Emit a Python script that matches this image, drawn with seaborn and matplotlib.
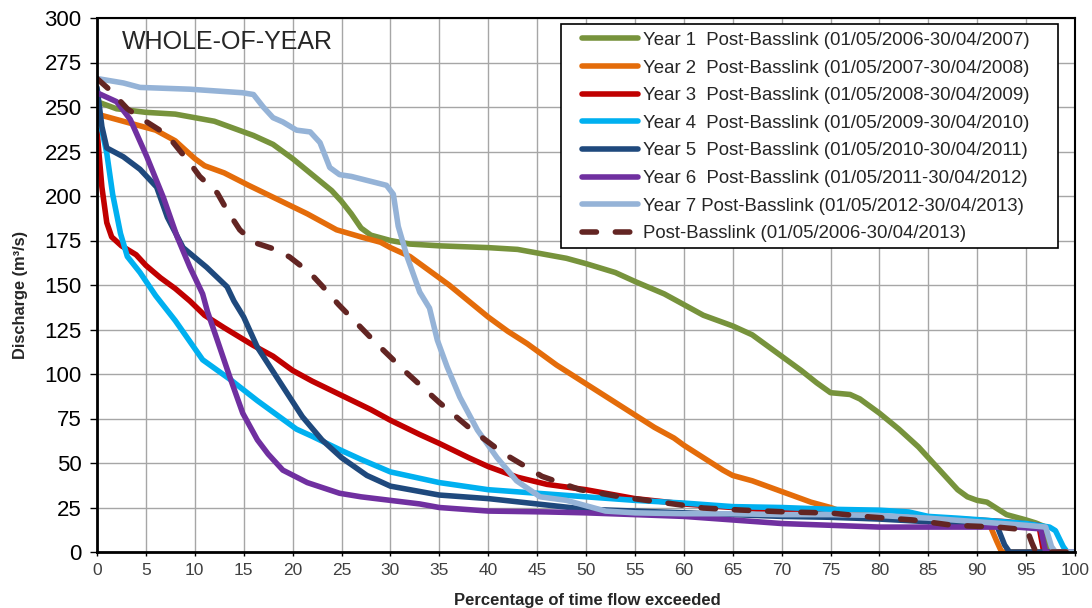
import matplotlib
matplotlib.use("Agg")
import matplotlib.pyplot as plt
from matplotlib.patches import Rectangle
import numpy as np
import pandas as pd
import seaborn as sns

# Flow-duration data: percentage of time exceeded vs discharge (m3/s)
labels = [
    "Year 1  Post-Basslink (01/05/2006-30/04/2007)",
    "Year 2  Post-Basslink (01/05/2007-30/04/2008)",
    "Year 3  Post-Basslink (01/05/2008-30/04/2009)",
    "Year 4  Post-Basslink (01/05/2009-30/04/2010)",
    "Year 5  Post-Basslink (01/05/2010-30/04/2011)",
    "Year 6  Post-Basslink (01/05/2011-30/04/2012)",
    "Year 7 Post-Basslink (01/05/2012-30/04/2013)",
    "Post-Basslink (01/05/2006-30/04/2013)",
]

x1 = [0, 2, 5, 8, 10, 12, 14, 16, 18, 20, 22, 24, 25, 26, 27, 28, 30, 32, 35, 40, 43, 45,
      48, 50, 53, 55, 58, 60, 62, 65, 67, 70, 72, 73.6, 75, 76, 77, 78, 80, 82, 84, 85, 86,
      87, 88, 89, 90, 91, 92, 93, 94, 95, 96, 97, 97.4, 100]
y1 = [253, 249, 247, 246, 244, 242, 238, 234, 229, 221, 212, 203, 197, 190, 182, 178, 175,
      173, 172, 171, 170, 168, 165, 162, 157, 152, 145, 139, 133, 127, 122, 110, 102, 95,
      89.5, 89, 88.5, 86, 78, 69, 59, 53, 47, 41, 35, 31, 29, 28, 24.5, 21, 19.5, 18, 16.3,
      14, 0, 0]

x2 = [0, 1, 4, 6, 8, 10, 11, 13, 15.5, 18.5, 21.5, 24.5, 27, 29, 30, 32, 34, 36, 38, 40, 42,
      44, 45, 47, 49, 51, 53, 55, 57, 59, 60, 62, 64, 65, 67, 68, 70, 71, 73, 75, 76, 78, 80,
      85, 90, 91.3, 92, 92.5, 100]
y2 = [246, 244.5, 240, 237, 231, 221, 217, 213, 206, 198, 190, 181, 177, 174, 171, 166, 158,
      150, 141, 132, 124, 117, 113, 105, 98, 91, 84, 77, 70, 64, 60, 53, 46, 43, 40, 38, 34,
      32, 28, 25, 23, 21, 20, 18, 16, 15, 6, 0, 0]

x3 = [0, 0.5, 1, 1.5, 2.5, 4, 5, 6.5, 8, 9.5, 11, 13, 16, 18, 20, 22, 25, 28, 30, 33, 35, 38,
      40, 43, 46, 50, 55, 60, 65, 70, 75, 80, 85, 90, 93, 96.3, 96.8, 100]
y3 = [237, 205, 185, 177, 172, 167, 161, 154, 148, 141, 133, 126, 116, 110, 102, 96, 88, 80,
      74, 66, 61, 53, 48, 42, 38, 35, 30, 27, 25, 23, 21, 20, 19, 18, 17, 15, 0, 0]

x4 = [0, 1, 1.6, 2.4, 3.1, 4.4, 6, 8, 10.8, 13.6, 16.4, 20.4, 22, 25, 27, 30, 35, 40, 45, 50,
      55, 60, 65, 70, 75, 80, 83, 85, 88, 90.5, 95, 97.4, 98, 98.8, 99.2, 100]
y4 = [250, 224, 201, 179, 166, 157, 144, 130, 108, 97, 85, 69, 65, 57, 52, 45, 39, 35, 33, 31,
      29, 27.5, 25.5, 25, 24, 23.5, 22.5, 20, 19, 18, 16, 14, 12, 3, 0, 0]

x5 = [0, 0.5, 1, 2.7, 4.4, 6.1, 7.2, 8.8, 11.2, 13.3, 14, 15, 16.4, 18.4, 21, 23, 25, 27.6,
      30, 35, 40, 45, 50, 55, 60, 65, 70, 75, 80, 85, 90, 92, 92.8, 93.3, 100]
y5 = [261, 239, 227, 222, 215, 205, 188, 171, 160, 149, 141, 132, 115, 98, 76, 63, 53, 43, 37,
      32, 30, 27, 24, 23, 22, 21, 20, 19.5, 18.5, 17, 16, 15, 4, 0, 0]

x6 = [0, 2, 3.4, 5.1, 6.8, 8.2, 9.5, 10.8, 11.3, 12.3, 13.6, 14.9, 16.4, 17.5, 19, 21.5, 24.8,
      27, 30, 33, 35, 40, 46, 50, 55, 60, 65, 70, 75, 80, 85, 90, 94, 96.5, 97, 100]
y6 = [258, 253, 243, 222, 199, 177, 160, 145, 135, 119, 98, 78, 63, 55, 46, 39, 33, 31, 29, 27,
      25, 23, 22.5, 22, 21, 20, 18, 16, 15, 14, 14, 14, 14, 13, 0, 0]

x7 = [0, 2.7, 4.4, 9.5, 14.9, 16, 17, 18, 19, 20.4, 21.8, 22.8, 23.8, 24.8, 26, 29.6, 30.3,
      30.8, 31.7, 33, 34, 34.8, 35.8, 37.1, 38.9, 40.9, 42.9, 45.3, 48, 52, 55, 60, 65, 70,
      75, 80, 85, 90, 95, 97, 97.6, 98, 100]
y7 = [266, 263.5, 261, 260, 258, 257, 250, 244, 241.6, 237, 236, 230, 216, 212, 211, 206, 201,
      183, 166, 146, 137, 119, 104, 87, 68.5, 53, 40, 31, 29, 23, 22, 21.5, 21.5, 21, 21, 20.5,
      19, 17, 15, 14, 3, 0, 0]

x8 = [0, 1.3, 3.1, 4.4, 6.7, 7.8, 9.5, 10.5, 12.3, 13.3, 14.6, 16, 18.4, 19.7, 21.8, 23.1,
      24.7, 28.6, 31.7, 35, 38.1, 41.5, 45.5, 49.4, 53.5, 57.6, 62, 65.7, 70.6, 75, 79, 83.4,
      87.5, 92, 95.1, 95.6, 96, 100]
y8 = [266, 259.6, 249, 244, 236, 230, 218.5, 211, 201.7, 192, 181, 174, 169.7, 165.7, 156.7,
      149, 139, 117, 100.5, 84, 69.6, 55.6, 42.5, 35, 31, 28, 24.7, 23.6, 22.5, 21.9, 19.7,
      18, 15, 14, 12.4, 5, 0, 0]

xs = [x1, x2, x3, x4, x5, x6, x7, x8]
ys = [y1, y2, y3, y4, y5, y6, y7, y8]
colors = ["#77933C", "#E46C0A", "#C00000", "#00B0F0", "#1F497D", "#7030A0", "#95B3D7", "#632523"]

sns.set_style("white")
plt.rcParams["font.family"] = ["Liberation Sans", "DejaVu Sans"]

fig = plt.figure(figsize=(10.92, 6.08), dpi=100)
ax = fig.add_axes([97 / 1092, 1 - 552 / 608, 978 / 1092, 534 / 608])

for lab, x, y, c in zip(labels, xs, ys, colors):
    df = pd.DataFrame({"pct": x, "q": y})
    sns.lineplot(data=df, x="pct", y="q", ax=ax, color=c, lw=4, sort=False,
                 estimator=None, label=lab, legend=False,
                 solid_capstyle="round", solid_joinstyle="round")

lines = ax.get_lines()
lines[-1].set_linestyle((0, (2.6, 3.4)))
lines[-1].set_dash_capstyle("round")

ax.set_xlim(0, 100)
ax.set_ylim(0, 300)
ax.set_xticks(np.arange(0, 101, 5))
ax.set_yticks(np.arange(0, 301, 25))
ax.grid(True, color="#a6a6a6", lw=1)
ax.set_axisbelow(True)

for side in ["top", "right"]:
    ax.spines[side].set_color("black")
    ax.spines[side].set_linewidth(1.5)
for side in ["left", "bottom"]:
    ax.spines[side].set_color("black")
    ax.spines[side].set_linewidth(2)

ax.tick_params(axis="y", left=True, direction="out", length=5, width=1, pad=6,
               labelsize=16, color="black", labelcolor="black")
ax.tick_params(axis="x", bottom=True, direction="out", length=3, width=1, pad=5,
               labelsize=12.5, color="black", labelcolor="#404040")

ax.set_xlabel("Percentage of time flow exceeded", fontsize=12, fontweight="bold")
ax.xaxis.set_label_coords(0.5015, -0.076)
ax.set_ylabel("Discharge (m³/s)", fontsize=11.8, fontweight="bold")
ax.yaxis.set_label_coords(-0.071, 0.481)

ax.text(0.0256, 0.942, "WHOLE-OF-YEAR", transform=ax.transAxes, fontsize=18,
        ha="left", va="baseline")

# Legend box drawn as a white framed panel, legend entries placed on top
ax.add_patch(Rectangle((0.4744, 0.5693), 0.5082, 0.4195, transform=ax.transAxes,
                       facecolor="white", edgecolor="black", lw=1.2, zorder=5))
leg = ax.legend(handles=lines, labels=labels, loc="upper left",
                bbox_to_anchor=(0.4959, 0.974), frameon=False, borderpad=0,
                borderaxespad=0, handlelength=3.0, handletextpad=0.3,
                labelspacing=0.57, fontsize=13.4)
leg.set_zorder(6)

fig.savefig("out.png", dpi=100)
